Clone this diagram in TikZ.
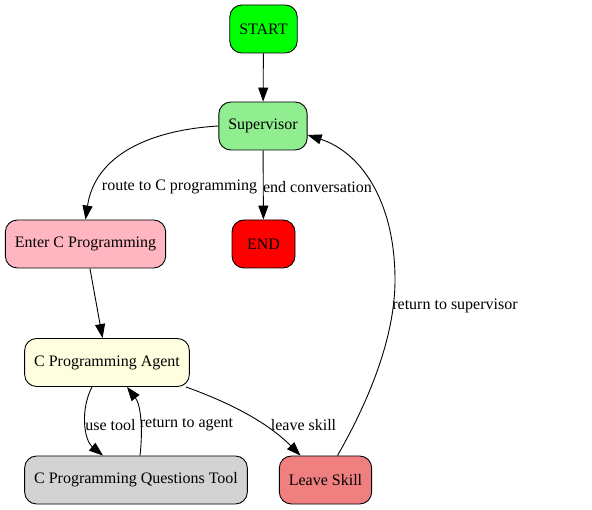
\documentclass[tikz,border=0pt]{standalone}
\usepackage{fontspec}
\setmainfont{Liberation Serif}
\usetikzlibrary{arrows.meta}

\definecolor{startgreen}{HTML}{00FF00}
\definecolor{supgreen}{HTML}{90EE90}
\definecolor{enterpink}{HTML}{FFB6C1}
\definecolor{agentyellow}{HTML}{FFFFE0}
\definecolor{toolgrey}{HTML}{D3D3D3}
\definecolor{leavecoral}{HTML}{F08080}

\begin{document}
\begin{tikzpicture}[x=1pt,y=-1pt,
state/.style = {draw,rounded corners=12pt,line width=0.9pt,minimum height=48pt,
  minimum width=63pt,inner xsep=9.5pt,font=\fontsize{16}{19}\selectfont},
elabel/.style = {inner sep=0pt,font=\fontsize{16}{19}\selectfont},
edge/.style = {draw,line width=0.9pt,-{Triangle[length=14pt,width=10pt]}}]
\useasboundingbox (0,0) rectangle (592,510);
% states
\node[state,fill=startgreen](start) at (263.5,29){START};
\node[state,fill=supgreen](sup) at (263,126){Supervisor};
\node[state,fill=enterpink](enter) at (85.5,244){Enter C Programming};
\node[state,fill=red](end) at (263.5,244){END};
\node[state,fill=agentyellow](agent) at (107,362.5){C Programming Agent};
\node[state,fill=toolgrey](tool) at (136,480){C Programming Questions Tool};
\node[state,fill=leavecoral](leave) at (325.5,480){Leave Skill};
% transitions
\draw[edge] (start) -- (sup);
\draw[edge] (sup.west) .. controls (150,130) and (95,155) .. (enter.north);
\draw[edge] (sup) -- (end);
\draw[edge] (enter) -- (agent);
\draw[edge] ([xshift=-15pt]agent.south) .. controls (80,410) and (84,440) .. ([xshift=-33pt]tool.north);
\draw[edge] ([xshift=4pt]tool.north) .. controls (143,430) and (141,405) .. ([xshift=20pt]agent.south);
\draw[edge] ([xshift=-4pt]agent.south east) .. controls (225,401) and (265,420) .. ([xshift=-25pt]leave.north);
\draw[edge] ([xshift=12pt]leave.north) .. controls (375,390) and (395,330) .. (395,280)
  .. controls (395,200) and (360,152) .. ([yshift=-9pt]sup.east);
% labels
\node[elabel](lroute) at (179.5,187){route to C programming};
\node[elabel](lend) at (317.5,187){end conversation};
\node[elabel](lback) at (455,306){return to supervisor};
\node[elabel](luse) at (110.5,425){use tool};
\node[elabel](lret) at (186.5,425){return to agent};
\node[elabel](lleave) at (303.5,425){leave skill};
\end{tikzpicture}
\end{document}
